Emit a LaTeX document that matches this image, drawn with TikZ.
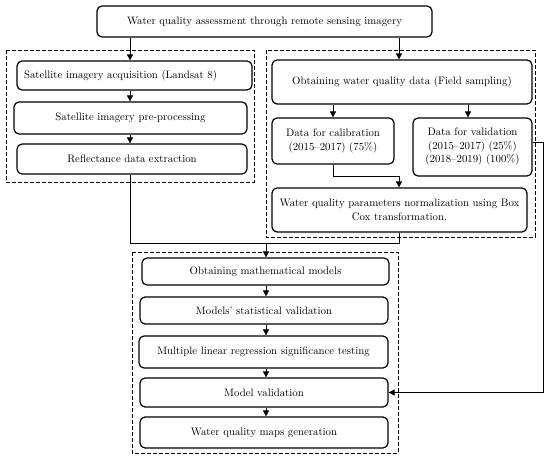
\documentclass[tikz,border=0pt]{standalone}
\usetikzlibrary{arrows.meta}
\begin{document}
\begin{tikzpicture}[x=1pt,y=-1pt,
  box/.style={draw, line width=1.2pt, rounded corners=5pt, inner sep=0pt, align=center,
    font=\fontsize{10.8}{13.5}\selectfont},
  frame/.style={draw, line width=0.7pt, dash pattern=on 4pt off 2pt},
  conn/.style={line width=0.7pt},
  arr/.style={line width=0.7pt, -{Triangle[length=6pt,width=6pt]}}
]
\useasboundingbox (0,0) rectangle (550,458);

% frames
\draw[frame] (6,50) rectangle (254,182);
\draw[frame] (266,50) rectangle (535,237);
\draw[frame] (132,252) rectangle (398,453);

% column coordinates
\coordinate (xl) at (130,0);
\coordinate (xr) at (399,0);
\coordinate (xc) at (333,0);
\coordinate (xv) at (468,0);
\coordinate (xb) at (266,0);
\coordinate (j1) at (399,176);
\coordinate (j2) at (266,243);
\coordinate (j3) at (399,243);
\coordinate (j4) at (543,142);

% nodes
\node[box, minimum width=335pt, minimum height=31pt] (top) at (264.5,21.5) {Water quality assessment through remote sensing imagery};

\node[box, minimum width=235pt, minimum height=29pt] (L1) at (134.5,75.5) {Satellite imagery acquisition (Landsat 8)\hspace*{28pt}};
\node[box, minimum width=233pt, minimum height=32pt] (L2) at (130.5,118) {Satellite imagery pre-processing};
\node[box, minimum width=230pt, minimum height=30pt] (L3) at (132,159) {Reflectance data extraction};

\node[box, minimum width=260pt, minimum height=44pt] (R1) at (402,82) {Obtaining water quality data (Field sampling)};
\node[box, minimum width=122pt, minimum height=46pt] (Rcal) at (333,141) {Data for calibration\\(2015--2017) (75\%)};
\node[box, minimum width=119pt, minimum height=58pt] (Rval) at (472.5,147) {Data for validation\\(2015--2017) (25\%)\\(2018--2019) (100\%)};
\node[box, minimum width=255pt, minimum height=44pt] (Rnorm) at (399.5,210) {Water quality parameters normalization using Box\\Cox transformation.};

\node[box, minimum width=247pt, minimum height=27pt] (B1) at (265.5,271.5) {Obtaining mathematical models};
\node[box, minimum width=248pt, minimum height=27pt] (B2) at (264,310.5) {Models' statistical validation};
\node[box, minimum width=249pt, minimum height=32pt] (B3) at (263.5,352) {Multiple linear regression significance testing};
\node[box, minimum width=248pt, minimum height=29pt] (B4) at (264,392.5) {Model validation};
\node[box, minimum width=248pt, minimum height=31pt] (B5) at (264,432.5) {Water quality maps generation};

% connectors
\draw[arr] (top.south -| xl) -- (L1.north -| xl);
\draw[arr] (L1.south -| xl) -- (L2.north -| xl);
\draw[arr] (L2.south -| xl) -- (L3.north -| xl);

\draw[arr] (top.south -| xr) -- (R1.north -| xr);
\draw[arr] (R1.south -| xc) -- (Rcal.north -| xc);
\draw[arr] (R1.south -| xv) -- (Rval.north -| xv);
\draw[arr] (Rcal.south) |- (j1) -- (Rnorm.north -| j1);

\draw[conn] (L3.south -| xl) |- (j3) -- (Rnorm.south -| j3);
\draw[arr] (j2) -- (B1.north -| j2);

\draw[arr] (B1.south -| xb) -- (B2.north -| xb);
\draw[arr] (B2.south -| xb) -- (B3.north -| xb);
\draw[arr] (B3.south -| xb) -- (B4.north -| xb);
\draw[arr] (B4.south -| xb) -- (B5.north -| xb);

\draw[arr] (Rval.east |- j4) -- (j4) |- (B4.east);
\end{tikzpicture}
\end{document}
